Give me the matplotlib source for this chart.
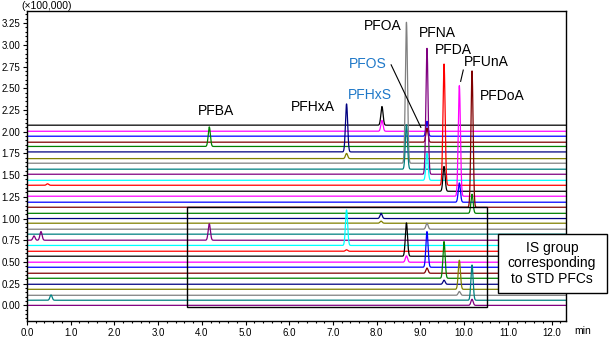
# -*- coding: utf-8 -*-

import numpy as np
import matplotlib
matplotlib.use("Agg")
import matplotlib.pyplot as plt
from matplotlib.patches import Rectangle
from matplotlib.ticker import MultipleLocator, FormatStrFormatter

plt.rcParams['font.family'] = ['Liberation Sans', 'DejaVu Sans']

# Trazas de arriba a abajo (linea base en unidades x100,000)
colores = ["#000000", "#ff00ff", "#0000ff", "#800000", "#008000", "#000080",
           "#808000", "#808080", "#008080", "#800080", "#00ffff", "#ff0000"] * 3
colores = colores[:34]

bases = [2.075, 2.005, 1.948, 1.879, 1.83, 1.767, 1.69, 1.637, 1.568, 1.51,
         1.44, 1.383, 1.314, 1.257, 1.188, 1.13, 1.06, 1.0, 0.946, 0.877,
         0.82, 0.75, 0.69, 0.623, 0.566, 0.497, 0.439, 0.37, 0.312, 0.243,
         0.185, 0.116, 0.059, 0.0]

# Picos por traza: (tiempo de retencion, valor maximo)
picos = {
    0: [(8.12, 2.29)],
    1: [(8.12, 2.13)],
    2: [(9.15, 2.12)],
    3: [(9.15, 2.04)],
    4: [(4.17, 2.055)],
    5: [(7.31, 2.32)],
    6: [(7.31, 1.75)],
    7: [(8.68, 3.26)],
    8: [(8.68, 2.08)],
    9: [(9.15, 2.96)],
    10: [(9.15, 1.75)],
    11: [(9.54, 2.78), (0.47, 1.40)],
    12: [(9.54, 1.60)],
    13: [(9.89, 2.53)],
    14: [(9.89, 1.41)],
    15: [(10.18, 2.70)],
    16: [(10.18, 1.28)],
    17: [(8.10, 1.06)],
    18: [(8.10, 0.97)],
    19: [(9.15, 0.945)],
    21: [(4.17, 0.94), (0.16, 0.80), (0.32, 0.85)],
    22: [(7.31, 1.10)],
    23: [(7.31, 0.64)],
    24: [(8.68, 0.95)],
    25: [(8.68, 0.57)],
    26: [(9.15, 0.85)],
    27: [(9.15, 0.43)],
    28: [(9.54, 0.735)],
    29: [(9.54, 0.29)],
    30: [(9.89, 0.52)],
    31: [(9.89, 0.16)],
    32: [(10.18, 0.465), (0.55, 0.12)],
    33: [(10.18, 0.07)],
}

# Etiquetas de compuestos: (texto, x, y, color)
etiquetas = [("PFBA", 4.32, 2.24, "black"),
             ("PFHxA", 6.53, 2.29, "black"),
             ("PFHxS", 7.85, 2.42, "#1f78c8"),
             ("PFOS", 7.80, 2.78, "#1f78c8"),
             ("PFOA", 8.13, 3.22, "black"),
             ("PFNA", 9.39, 3.14, "black"),
             ("PFDA", 9.76, 2.94, "black"),
             ("PFUnA", 10.50, 2.80, "black"),
             ("PFDoA", 10.87, 2.41, "black")]

t = np.linspace(0, 12.33, 6000)
sigma = 0.025

fig = plt.figure(figsize=(6.09, 3.38), dpi=100)
ax = fig.add_axes([27 / 609, 1 - 321 / 338, (566 - 27) / 609, (321 - 11) / 338])

for i, (base, color) in enumerate(zip(bases, colores)):
    y = np.full_like(t, base)
    for rt, cima in picos.get(i, []):
        y += (cima - base) * np.exp(-0.5 * ((t - rt) / sigma) ** 2)
    ax.plot(t, y, color=color, lw=0.9)

for texto, x, y, color in etiquetas:
    ax.text(x, y, texto, color=color, fontsize=10, ha="center", va="center")

# Lineas de las etiquetas
ax.plot([8.33, 9.01], [2.77, 2.05], color="black", lw=0.8)
ax.plot([9.98, 9.92], [2.71, 2.58], color="black", lw=0.8)

# Recuadro del grupo IS
ax.add_patch(Rectangle((3.67, -0.02), 10.53 - 3.67, 1.157, fill=False,
                       edgecolor="black", lw=1.0, zorder=5))

ax.set_xlim(0, 12.33)
ax.set_ylim(-0.18, 3.39)
ax.xaxis.set_major_locator(MultipleLocator(1.0))
ax.xaxis.set_minor_locator(MultipleLocator(0.2))
ax.yaxis.set_major_locator(MultipleLocator(0.25))
ax.yaxis.set_minor_locator(MultipleLocator(0.05))
ax.xaxis.set_major_formatter(FormatStrFormatter("%.1f"))
ax.yaxis.set_major_formatter(FormatStrFormatter("%.2f"))
ax.tick_params(which="major", length=3, width=0.8, labelsize=7, pad=2)
ax.tick_params(which="minor", length=1.5, width=0.8)
for s in ax.spines.values():
    s.set_linewidth(1.0)

fig.text(47 / 609, 1 - 6 / 338, "(×100,000)", fontsize=7.5, ha="center", va="center")
fig.text(583 / 609, 1 - 331 / 338, "min", fontsize=7.5, ha="center", va="center")

# Caja de texto del grupo IS
fig.patches.append(Rectangle((498 / 609, 1 - 293 / 338), 109 / 609, 59 / 338,
                             transform=fig.transFigure, facecolor="white",
                             edgecolor="black", lw=1.0, zorder=3))
fig.text(552 / 609, 1 - 263.5 / 338, "IS group\ncorresponding\nto STD PFCs",
         fontsize=10, ha="center", va="center", linespacing=1.1, zorder=4)

fig.savefig("out.png", dpi=100)
